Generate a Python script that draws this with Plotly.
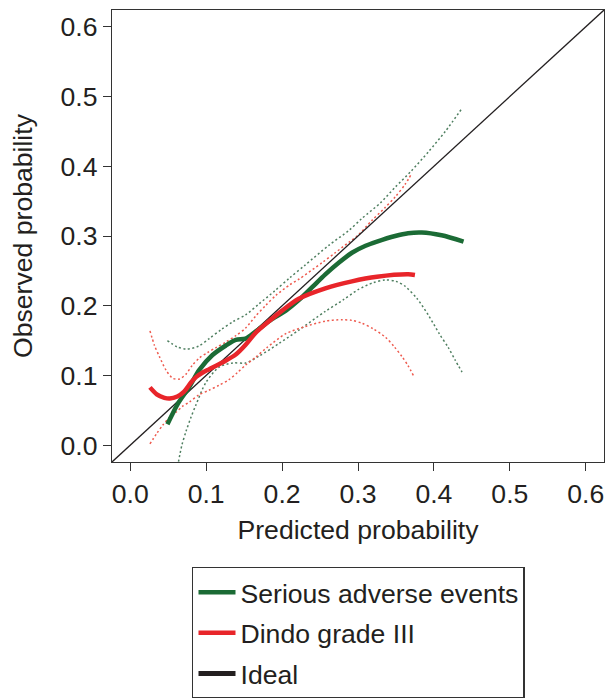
import plotly.graph_objects as go

# ---- data ----
sae_x = [0.049, 0.063, 0.078, 0.091, 0.108, 0.126, 0.139, 0.152, 0.165, 0.187, 0.205,
         0.222, 0.240, 0.257, 0.275, 0.292, 0.310, 0.325, 0.349, 0.366, 0.384, 0.410, 0.439]
sae_y = [0.030, 0.060, 0.084, 0.108, 0.129, 0.143, 0.151, 0.153, 0.163, 0.181, 0.193,
         0.208, 0.227, 0.245, 0.262, 0.276, 0.286, 0.292, 0.300, 0.304, 0.305, 0.301, 0.292]

sae_hi_x = [0.049, 0.062, 0.074, 0.090, 0.104, 0.120, 0.135, 0.152, 0.170, 0.190, 0.210,
            0.230, 0.262, 0.288, 0.305, 0.330, 0.349, 0.370, 0.393, 0.415, 0.437]
sae_hi_y = [0.150, 0.141, 0.138, 0.142, 0.153, 0.166, 0.177, 0.187, 0.203, 0.221, 0.240,
            0.258, 0.287, 0.308, 0.325, 0.348, 0.370, 0.393, 0.421, 0.450, 0.483]

sae_lo_x = [0.0625, 0.068, 0.0735, 0.080, 0.0866, 0.0997, 0.117, 0.135, 0.152, 0.170, 0.196,
            0.222, 0.257, 0.280, 0.300, 0.320, 0.336, 0.350, 0.362, 0.378, 0.393, 0.407,
            0.419, 0.428, 0.437]
sae_lo_y = [-0.030, 0.000, 0.020, 0.040, 0.058, 0.090, 0.112, 0.118, 0.118, 0.128, 0.146,
            0.165, 0.192, 0.208, 0.223, 0.233, 0.237, 0.235, 0.228, 0.210, 0.186, 0.160,
            0.140, 0.122, 0.105]

dindo_x = [0.026, 0.035, 0.045, 0.052, 0.062, 0.071, 0.080, 0.087, 0.095, 0.104, 0.122,
           0.139, 0.152, 0.165, 0.183, 0.200, 0.222, 0.257, 0.292, 0.325, 0.366, 0.375]
dindo_y = [0.083, 0.073, 0.068, 0.067, 0.070, 0.077, 0.090, 0.098, 0.104, 0.109, 0.119,
           0.130, 0.144, 0.161, 0.178, 0.193, 0.210, 0.225, 0.235, 0.2415, 0.245, 0.244]

dindo_hi_x = [0.026, 0.032, 0.0385, 0.047, 0.056, 0.065, 0.0735, 0.082, 0.091, 0.102, 0.113,
              0.126, 0.139, 0.152, 0.165, 0.178, 0.192, 0.210, 0.222, 0.253, 0.270, 0.288,
              0.300, 0.318, 0.335, 0.349, 0.362, 0.371]
dindo_hi_y = [0.164, 0.143, 0.127, 0.108, 0.096, 0.095, 0.102, 0.115, 0.125, 0.133, 0.140,
              0.148, 0.157, 0.168, 0.185, 0.200, 0.215, 0.230, 0.238, 0.262, 0.276, 0.291,
              0.301, 0.322, 0.340, 0.356, 0.374, 0.390]

dindo_lo_x = [0.026, 0.035, 0.043, 0.052, 0.060, 0.069, 0.078, 0.090, 0.104, 0.117, 0.130,
              0.141, 0.152, 0.165, 0.180, 0.205, 0.230, 0.257, 0.279, 0.292, 0.305, 0.320,
              0.336, 0.348, 0.358, 0.366, 0.373]
dindo_lo_y = [0.002, 0.017, 0.029, 0.040, 0.047, 0.056, 0.062, 0.072, 0.079, 0.086, 0.094,
              0.104, 0.115, 0.126, 0.140, 0.160, 0.170, 0.178, 0.180, 0.179, 0.175, 0.167,
              0.155, 0.141, 0.127, 0.114, 0.100]

ideal_xy = [-0.05, 0.65]
tick_vals = [0.0, 0.1, 0.2, 0.3, 0.4, 0.5, 0.6]
tick_text = ["0.0", "0.1", "0.2", "0.3", "0.4", "0.5", "0.6"]
axis_range = [-0.024, 0.624]

# ---- styles ----
TXT = "#231f20"
GREEN = "#1b6b35"
RED = "#e8252a"
GREEN_DOT = "#4f7f60"
RED_DOT = "#ee5a4e"
FONT = "Liberation Sans, Arial, Helvetica, sans-serif"
FS = 26.6

fig = go.Figure()

dot = dict(width=1.5, dash="2px,2.5px")
fig.add_trace(go.Scatter(x=sae_hi_x, y=sae_hi_y, mode="lines", line=dict(color=GREEN_DOT, shape="spline", smoothing=0.8, **dot),
                         showlegend=False, legendgroup="a", hoverinfo="skip"))
fig.add_trace(go.Scatter(x=sae_lo_x, y=sae_lo_y, mode="lines", line=dict(color=GREEN_DOT, shape="spline", smoothing=0.8, **dot),
                         showlegend=False, legendgroup="a", hoverinfo="skip"))
fig.add_trace(go.Scatter(x=dindo_hi_x, y=dindo_hi_y, mode="lines", line=dict(color=RED_DOT, shape="spline", smoothing=0.8, **dot),
                         showlegend=False, legendgroup="b", hoverinfo="skip"))
fig.add_trace(go.Scatter(x=dindo_lo_x, y=dindo_lo_y, mode="lines", line=dict(color=RED_DOT, shape="spline", smoothing=0.8, **dot),
                         showlegend=False, legendgroup="b", hoverinfo="skip"))

fig.add_trace(go.Scatter(x=ideal_xy, y=ideal_xy, mode="lines", line=dict(color=TXT, width=1.3),
                         showlegend=False, legendgroup="c"))

fig.add_trace(go.Scatter(x=sae_x, y=sae_y, mode="lines", name="Serious adverse events",
                         line=dict(color=GREEN, width=4.5, shape="spline", smoothing=0.8), legendgroup="a"))
fig.add_trace(go.Scatter(x=dindo_x, y=dindo_y, mode="lines", name="Dindo grade III",
                         line=dict(color=RED, width=4.5, shape="spline", smoothing=0.8), legendgroup="b"))
fig.add_trace(go.Scatter(x=[None], y=[None], mode="lines", name="Ideal",
                         line=dict(color=TXT, width=5), legendgroup="c"))

axis_common = dict(
    range=axis_range, tickvals=tick_vals, ticktext=tick_text,
    showgrid=False, zeroline=False, showline=True, mirror=True,
    linecolor="#333333", linewidth=1.3, ticks="outside", ticklen=8, tickwidth=1.3,
    tickcolor="#333333", tickfont=dict(size=FS, color=TXT, family=FONT),
)

fig.update_layout(
    width=606, height=698,
    margin=dict(l=112, r=2, t=10, b=236, autoexpand=False),
    paper_bgcolor="white", plot_bgcolor="white",
    font=dict(family=FONT, color=TXT, size=FS),
    xaxis=dict(title=dict(text="Predicted probability", font=dict(size=FS, color=TXT), standoff=12), **axis_common),
    yaxis=dict(title=dict(text="Observed probability", font=dict(size=FS, color=TXT), standoff=20), **axis_common),
    legend=dict(
        x=0.1626, y=-0.2323, xanchor="left", yanchor="top",
        bordercolor="#333333", borderwidth=1.5, bgcolor="white",
        font=dict(size=FS, color=TXT, family=FONT),
        traceorder="grouped", tracegroupgap=3, itemwidth=37,
    ),
    showlegend=True,
)

fig.write_html("out.html")
